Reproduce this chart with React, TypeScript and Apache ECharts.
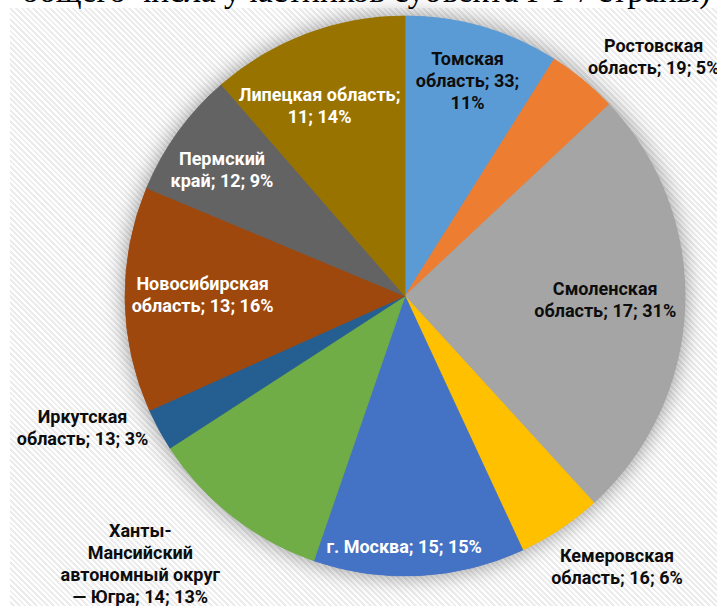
import React, { useEffect, useRef } from 'react';
import * as echarts from 'echarts';

// ---- data ----
const regions = [
  'Томская область',
  'Ростовская область',
  'Смоленская область',
  'Кемеровская область',
  'г. Москва',
  'Ханты-Мансийский автономный округ — Югра',
  'Иркутская область',
  'Новосибирская область',
  'Пермский край',
  'Липецкая область',
];
const participants = [33, 19, 17, 16, 15, 14, 13, 13, 12, 11];
const sharePercents = [11, 5, 31, 6, 15, 13, 3, 16, 9, 14];
const headingText = 'общего числа участников субъекта РФ / страны)';

// ---- styles ----
const sliceColors = ['#5B9BD5', '#ED7D31', '#A5A5A5', '#FFC000', '#4472C4', '#70AD47', '#255E91', '#9E480E', '#636363', '#997300'];
const DARK = '#0d0d0d';
const LIGHT = '#ffffff';
// per-label: radial factor, nudge x/y, wrap width, text color
const labelPlacement = [
  { fr: 0.78, dx: 2, dy: -6, w: 112, c: DARK },
  { fr: 1.25, dx: 26, dy: 31, w: 150, c: DARK },
  { fr: 0.78, dx: -18, dy: -5, w: 155, c: DARK },
  { fr: 1.25, dx: 18, dy: -21, w: 150, c: DARK },
  { fr: 0.78, dx: -12, dy: 32, w: 210, c: LIGHT },
  { fr: 1.25, dx: -49, dy: -8, w: 162, c: DARK },
  { fr: 1.25, dx: -15, dy: -36, w: 145, c: DARK },
  { fr: 0.78, dx: 16, dy: -4, w: 160, c: LIGHT },
  { fr: 0.78, dx: -6, dy: 1, w: 118, c: LIGHT },
  { fr: 0.78, dx: -9, dy: 14, w: 175, c: LIGHT },
];

const CX = 405;
const CY = 296;
const R = 280;
const LABEL_FONT_FAMILY = 'Roboto';
const LABEL_FONT_SIZE = 18;

function wrapLabel(text: string, maxW: number, font: string): string {
  const ctx = document.createElement('canvas').getContext('2d')!;
  ctx.font = font;
  const tokens: { t: string; sp: boolean }[] = [];
  text.split(' ').forEach((w, wi) => {
    const parts = w.split(/(?<=-)/);
    parts.forEach((p, pi) => tokens.push({ t: p, sp: pi === 0 && wi > 0 }));
  });
  const lines: string[] = [];
  let cur = '';
  tokens.forEach((tok) => {
    if (!cur) {
      cur = tok.t;
      return;
    }
    const cand = cur + (tok.sp ? ' ' : '') + tok.t;
    if (ctx.measureText(cand).width <= maxW) cur = cand;
    else {
      lines.push(cur);
      cur = tok.t;
    }
  });
  lines.push(cur);
  return lines.join('\n');
}

export default function App() {
  const ref = useRef<HTMLDivElement>(null);

  useEffect(() => {
    document.body.style.margin = '0';
    if (!ref.current) return;
    const chart = echarts.init(ref.current, undefined, { renderer: 'svg' });

    const total = sharePercents.reduce((a, b) => a + b, 0);
    const midAngles: number[] = [];
    let acc = 0;
    sharePercents.forEach((v) => {
      midAngles.push(((acc + v / 2) / total) * Math.PI * 2);
      acc += v;
    });

    const font = `bold ${LABEL_FONT_SIZE}px ${LABEL_FONT_FAMILY}`;
    const data = regions.map((name, i) => ({
      name,
      value: sharePercents[i],
      itemStyle: { color: sliceColors[i], borderColor: sliceColors[i], borderWidth: 0.8 },
      label: {
        color: labelPlacement[i].c,
        formatter: () => wrapLabel(`${name}; ${participants[i]}; ${sharePercents[i]}%`, labelPlacement[i].w, font),
      },
    }));

    chart.setOption({
      animation: false,
      backgroundColor: 'transparent',
      graphic: [
        {
          type: 'text',
          x: 22,
          y: -10,
          silent: true,
          style: {
            text: headingText,
            font: '33.5px "Liberation Serif"',
            fill: '#000',
            verticalAlign: 'middle',
            align: 'left',
          },
        },
      ],
      series: [
        {
          type: 'pie',
          silent: true,
          center: [CX, CY],
          radius: [0, R],
          startAngle: 90,
          label: { show: false },
          labelLine: { show: false },
          data: [{ value: 1, itemStyle: { color: '#9a9a9a', shadowBlur: 22, shadowColor: 'rgba(0,0,0,0.42)' } }],
          z: 1,
        },
        {
          type: 'pie',
          silent: true,
          center: [CX, CY],
          radius: [0, R],
          startAngle: 90,
          clockwise: true,
          avoidLabelOverlap: false,
          label: {
            show: true,
            position: 'inside',
            fontFamily: LABEL_FONT_FAMILY,
            fontWeight: 'bold',
            fontSize: LABEL_FONT_SIZE,
            lineHeight: 22,
            align: 'center',
          },
          labelLine: { show: false },
          labelLayout: (p: any) => {
            const i = p.dataIndex;
            const L = labelPlacement[i];
            const r = R * L.fr;
            return {
              x: CX + r * Math.sin(midAngles[i]) + L.dx,
              y: CY - r * Math.cos(midAngles[i]) + L.dy,
              align: 'center',
              verticalAlign: 'middle',
            };
          },
          data,
          z: 2,
        },
      ],
    });

    return () => chart.dispose();
  }, []);

  return (
    <div style={{ position: 'relative', width: 717, height: 606, overflow: 'hidden', background: '#fff' }}>
      <div
        style={{
          position: 'absolute',
          left: 10,
          top: 8,
          right: 0,
          bottom: 0,
          background: 'repeating-linear-gradient(45deg, #ffffff 0px, #ffffff 2px, #ececec 2px, #ececec 4px)',
        }}
      />
      <div ref={ref} style={{ position: 'absolute', left: 0, top: 0, width: 717, height: 606 }} />
    </div>
  );
}
